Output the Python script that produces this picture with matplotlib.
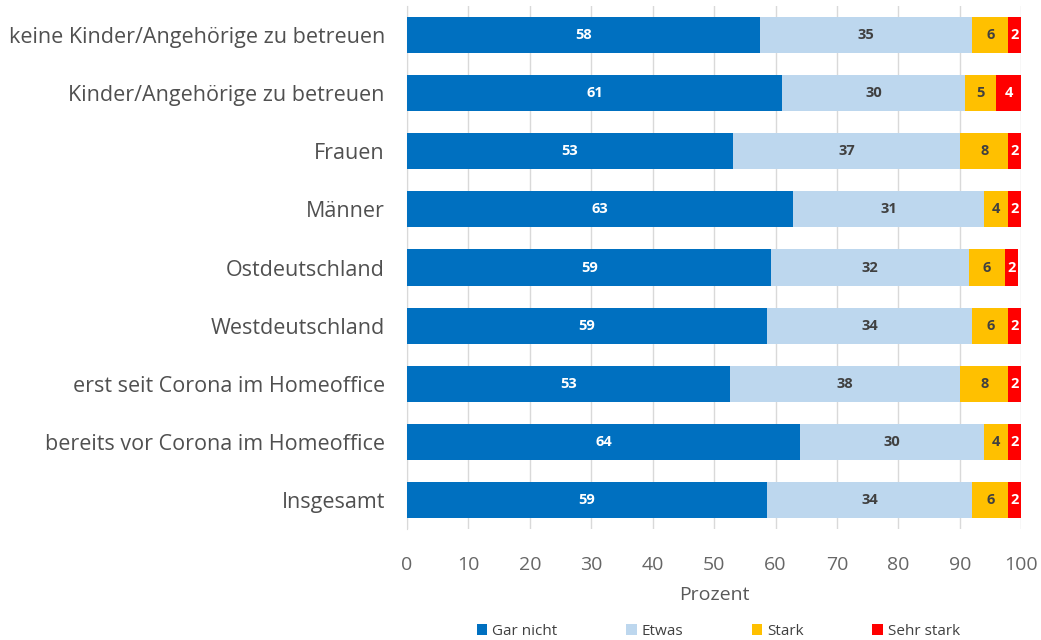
import numpy as np
import matplotlib
matplotlib.use("Agg")
from matplotlib import pyplot as plt

plt.rcParams['font.family'] = ['Open Sans', 'DejaVu Sans']

# top to bottom
categories = ['keine Kinder/Angehörige zu betreuen', 'Kinder/Angehörige zu betreuen',
              'Frauen', 'Männer', 'Ostdeutschland', 'Westdeutschland',
              'erst seit Corona im Homeoffice', 'bereits vor Corona im Homeoffice',
              'Insgesamt']
gar_nicht = [57.5, 61.1, 53.1, 62.9, 59.3, 58.6, 52.6, 64.0, 58.6]
etwas = [34.5, 29.8, 37.0, 31.1, 32.2, 33.4, 37.5, 30.0, 33.4]
stark = [5.9, 5.0, 7.8, 3.9, 5.9, 5.9, 7.8, 3.9, 5.9]
sehr_stark = [2.1, 4.1, 2.1, 2.1, 2.1, 2.1, 2.1, 2.1, 2.1]
lab_gar = [58, 61, 53, 63, 59, 59, 53, 64, 59]
lab_etwas = [35, 30, 37, 31, 32, 34, 38, 30, 34]
lab_stark = [6, 5, 8, 4, 6, 6, 8, 4, 6]
lab_sehr = [2, 4, 2, 2, 2, 2, 2, 2, 2]

series = [('Gar nicht', gar_nicht, lab_gar, '#0070C0', 'white'),
          ('Etwas', etwas, lab_etwas, '#BDD7EE', '#404040'),
          ('Stark', stark, lab_stark, '#FFC000', '#404040'),
          ('Sehr stark', sehr_stark, lab_sehr, '#FF0000', 'white')]

fig = plt.figure(figsize=(10.41, 6.4), dpi=100)
ax = fig.add_axes([0.391, 0.173, 0.590, 0.818])

y = np.arange(len(categories))
left = np.zeros(len(categories))
for name, vals, labs, col, tcol in series:
    vals = np.array(vals)
    ax.barh(y, vals, left=left, height=0.62, color=col, label=name, zorder=3)
    for yi, l, v, t in zip(y, left, vals, labs):
        ax.text(l + v / 2, yi, str(t), ha='center', va='center', color=tcol,
                fontsize=10.5, fontweight='bold', zorder=4)
    left = left + vals

ax.set_ylim(len(categories) - 0.5, -0.5)
ax.set_xlim(0, 100)
ax.set_yticks(y)
ax.set_yticklabels(categories, fontsize=15.5, color='#505050')
ax.set_xticks(np.arange(0, 101, 10))
ax.tick_params(axis='x', labelsize=14, labelcolor='#666666', length=0, pad=19)
ax.tick_params(axis='y', length=0, pad=16)
ax.grid(axis='x', color='#D9D9D9', linewidth=1, zorder=0)
for s in ['top', 'right', 'bottom']:
    ax.spines[s].set_visible(False)
ax.spines['left'].set_color('#D9D9D9')
ax.set_xlabel('Prozent', fontsize=14, color='#595959', labelpad=9)

fig.legend(loc='lower center', bbox_to_anchor=(0.69, -0.02), ncol=4, frameon=False,
           fontsize=11, labelcolor='#404040', handlelength=0.7, handleheight=0.7,
           handletextpad=0.3, columnspacing=4.5)

fig.savefig('out.png', dpi=100)
